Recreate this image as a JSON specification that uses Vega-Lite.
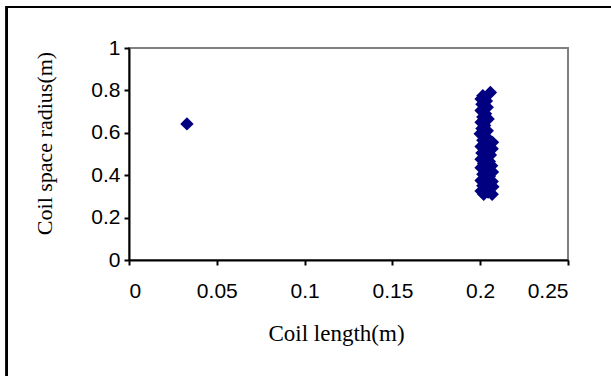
{
  "$schema": "https://vega.github.io/schema/vega-lite/v6.json",
  "autosize": "none",
  "width": 439,
  "height": 212,
  "padding": {"left": 129, "top": 48, "right": 43, "bottom": 116},
  "background": "white",
  "config": {
    "view": {"stroke": "#808080", "strokeWidth": 2},
    "axis": {
      "domainColor": "black",
      "domainWidth": 2,
      "tickColor": "black",
      "tickWidth": 2,
      "tickSize": 5,
      "grid": false,
      "labelFont": "Liberation Sans",
      "labelFontSize": 21,
      "labelColor": "black",
      "titleFont": "Liberation Serif",
      "titleFontSize": 22,
      "titleFontWeight": "normal",
      "titleColor": "black"
    }
  },
  "data": {
    "values": [
      {"length": 0.033, "radius": 0.642},
      {"length": 0.2058, "radius": 0.79},
      {"length": 0.2015, "radius": 0.775},
      {"length": 0.2005, "radius": 0.76},
      {"length": 0.2035, "radius": 0.75},
      {"length": 0.201, "radius": 0.735},
      {"length": 0.204, "radius": 0.72},
      {"length": 0.2005, "radius": 0.705},
      {"length": 0.203, "radius": 0.69},
      {"length": 0.2015, "radius": 0.675},
      {"length": 0.2045, "radius": 0.665},
      {"length": 0.2005, "radius": 0.65},
      {"length": 0.2025, "radius": 0.635},
      {"length": 0.201, "radius": 0.62},
      {"length": 0.204, "radius": 0.61},
      {"length": 0.2, "radius": 0.595},
      {"length": 0.2035, "radius": 0.58},
      {"length": 0.2015, "radius": 0.565},
      {"length": 0.207, "radius": 0.555},
      {"length": 0.2045, "radius": 0.545},
      {"length": 0.2005, "radius": 0.535},
      {"length": 0.2068, "radius": 0.525},
      {"length": 0.203, "radius": 0.515},
      {"length": 0.201, "radius": 0.505},
      {"length": 0.2058, "radius": 0.495},
      {"length": 0.2035, "radius": 0.485},
      {"length": 0.2005, "radius": 0.475},
      {"length": 0.2052, "radius": 0.465},
      {"length": 0.202, "radius": 0.455},
      {"length": 0.2065, "radius": 0.445},
      {"length": 0.2005, "radius": 0.435},
      {"length": 0.204, "radius": 0.425},
      {"length": 0.207, "radius": 0.415},
      {"length": 0.2015, "radius": 0.405},
      {"length": 0.2052, "radius": 0.395},
      {"length": 0.203, "radius": 0.385},
      {"length": 0.2005, "radius": 0.375},
      {"length": 0.2068, "radius": 0.37},
      {"length": 0.204, "radius": 0.36},
      {"length": 0.2015, "radius": 0.35},
      {"length": 0.2072, "radius": 0.345},
      {"length": 0.203, "radius": 0.335},
      {"length": 0.2005, "radius": 0.325},
      {"length": 0.2045, "radius": 0.32},
      {"length": 0.2068, "radius": 0.31},
      {"length": 0.202, "radius": 0.31}
    ]
  },
  "layer": [
    {
      "mark": {"type": "rect", "fill": null, "stroke": "black", "strokeWidth": 2, "clip": false},
      "encoding": {
        "x": {"datum": -0.0695, "type": "quantitative"},
        "x2": {"datum": 0.3},
        "y": {"datum": 1.1934, "type": "quantitative"},
        "y2": {"datum": -0.6}
      }
    },
    {
      "mark": {"type": "point", "shape": "diamond", "filled": true, "color": "#000080", "size": 180, "opacity": 1},
      "encoding": {
        "x": {
          "field": "length",
          "type": "quantitative",
          "scale": {"domain": [0, 0.25], "nice": false, "zero": false},
          "axis": {
            "title": "Coil length(m)",
            "values": [0, 0.05, 0.1, 0.15, 0.2, 0.25],
            "format": "~g",
            "labelPadding": 15,
            "titlePadding": 21,
            "titleFontSize": 23,
            "titleX": 207
          }
        },
        "y": {
          "field": "radius",
          "type": "quantitative",
          "scale": {"domain": [0, 1], "nice": false, "zero": false},
          "axis": {
            "title": "Coil space radius(m)",
            "values": [0, 0.2, 0.4, 0.6, 0.8, 1],
            "format": "~g",
            "labelPadding": 4,
            "titlePadding": 34,
            "titleY": 95
          }
        }
      }
    }
  ]
}
